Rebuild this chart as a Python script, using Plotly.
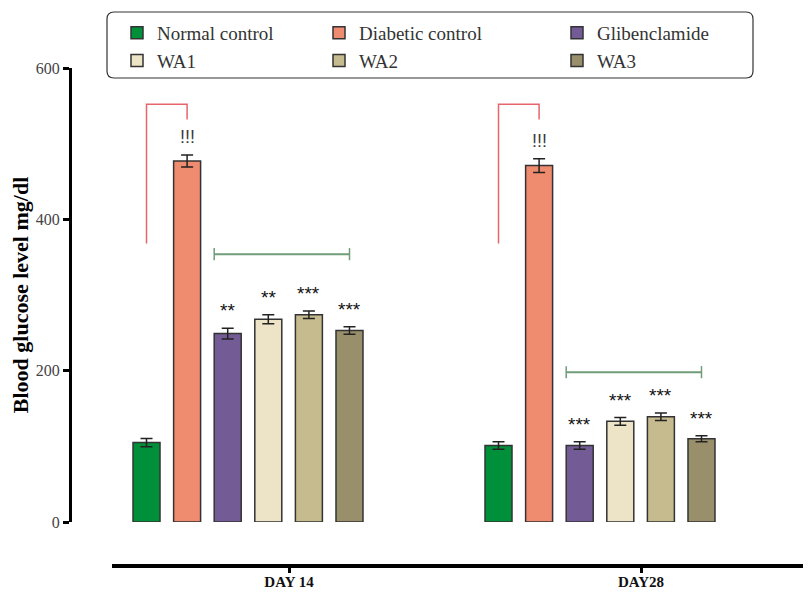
import plotly.graph_objects as go

# ---------------- data ----------------
days = ["DAY 14", "DAY28"]
groups = ["Normal control", "Diabetic control", "Glibenclamide", "WA1", "WA2", "WA3"]
normal_control = [105, 101]
diabetic_control = [477, 471]
glibenclamide = [249, 101]
wa1 = [268, 133]
wa2 = [274, 139]
wa3 = [253, 110]

normal_err = [5.5, 5]
diabetic_err = [8, 9]
glib_err = [7, 5]
wa1_err = [6, 5]
wa2_err = [5, 5]
wa3_err = [5, 4]

diabetic_sig = ["!!!", "!!!"]
glib_sig = ["**", "***"]
wa1_sig = ["**", "***"]
wa2_sig = ["***", "***"]
wa3_sig = ["***", "***"]

red_bracket = [368, 552, 532]      # left foot, top, right foot (mg/dl)
green_bracket = [354, 198]          # level per day (mg/dl)

y_ticks = [0, 200, 400, 600]

values = [normal_control, diabetic_control, glibenclamide, wa1, wa2, wa3]
errors = [normal_err, diabetic_err, glib_err, wa1_err, wa2_err, wa3_err]
sigs = [None, diabetic_sig, glib_sig, wa1_sig, wa2_sig, wa3_sig]
colors = ["#00903A", "#EF8B6E", "#735B96", "#EDE3C7", "#C6BB8F", "#9A8F6B"]

# ---------------- geometry ----------------
# The page has an 8px body margin, so target (screen) pixel p maps to figure pixel p - OFF
OFF = 8
W, H = 811, 592
ML, MR, MT, MB = 64, 0, 60, 34
PW = W - ML - MR
PH = H - MT - MB
BARGAP = 0.308
BARGROUPGAP = 0.335
N = len(groups)
slot = (1 - BARGAP) / N
barw = slot * (1 - BARGROUPGAP)
cat_px = 352.0


def xc(i, g):
    return g + (i - (N - 1) / 2) * slot


def px_x(p):
    return (p - OFF - ML) / PW


def px_y(p):
    return (H - MB - (p - OFF)) / PH


legend_cols = ["legend", "legend2", "legend3", "legend", "legend2", "legend3"]

fig = go.Figure()
for i, name in enumerate(groups):
    fig.add_trace(go.Bar(
        x=days, y=values[i], name=name,
        marker=dict(color=colors[i], line=dict(color="#333333", width=1.5)),
        error_y=dict(type="data", array=errors[i], color="#222222", thickness=1.5, width=6),
        legend=legend_cols[i],
    ))

# dummy trace for the lower category axis
fig.add_trace(go.Scatter(x=[None], y=[None], xaxis="x2", yaxis="y",
                         showlegend=False, hoverinfo="skip"))

annotations = []
for i, s in enumerate(sigs):
    if s is None:
        continue
    for g in range(len(days)):
        is_excl = s[g].startswith("!")
        annotations.append(dict(
            x=days[g], y=values[i][g] + errors[i][g], xref="x", yref="y",
            text=s[g], showarrow=False, yanchor="bottom",
            xshift=(i - (N - 1) / 2) * slot * cat_px,
            yshift=6 if is_excl else 5,
            font=dict(family="Liberation Sans", size=18 if is_excl else 19,
                      color="#3a3a3a" if is_excl else "#111111"),
        ))

shapes = []
red = "#E8666B"
green = "#6F9C79"
for g in range(len(days)):
    x0 = xc(0, g)
    x1 = xc(1, g)
    shapes.append(dict(
        type="path", xref="x", yref="y",
        path=f"M {x0},{red_bracket[0]} L {x0},{red_bracket[1]} L {x1},{red_bracket[1]} L {x1},{red_bracket[2]}",
        line=dict(color=red, width=1.5)))
    gx0 = xc(2, g) - barw / 2
    gx1 = xc(5, g)
    lv = green_bracket[g]
    shapes.append(dict(type="line", xref="x", yref="y", x0=gx0, x1=gx1, y0=lv, y1=lv,
                       line=dict(color=green, width=2)))
    for gx in (gx0, gx1):
        shapes.append(dict(type="line", xref="x", yref="y", x0=gx, x1=gx, y0=lv - 8, y1=lv + 8,
                           line=dict(color=green, width=1.5)))

# legend frame (rounded rectangle) in paper coords
lx0, lx1, ly0, ly1 = px_x(107), px_x(753), px_y(12), px_y(78)
rx, ry = 7 / PW, 7 / PH
path = (f"M {lx0+rx},{ly0} L {lx1-rx},{ly0} Q {lx1},{ly0} {lx1},{ly0-ry} "
        f"L {lx1},{ly1+ry} Q {lx1},{ly1} {lx1-rx},{ly1} L {lx0+rx},{ly1} "
        f"Q {lx0},{ly1} {lx0},{ly1+ry} L {lx0},{ly0-ry} Q {lx0},{ly0} {lx0+rx},{ly0} Z")
shapes.append(dict(type="path", xref="paper", yref="paper", path=path,
                   line=dict(color="#333333", width=1.2), fillcolor="rgba(0,0,0,0)"))

legend_font = dict(family="Liberation Serif", size=19, color="#333333")
leg_common = dict(orientation="v", xanchor="left", yanchor="top", bgcolor="rgba(0,0,0,0)",
                  font=legend_font, itemwidth=30, tracegroupgap=0)

tick_x0, tick_x1 = 289, 641  # screen positions of the day ticks on the lower axis
u = tick_x1 - tick_x0
x2_dom0 = px_x(112)

fig.update_layout(
    width=W, height=H,
    margin=dict(l=ML, r=MR, t=MT, b=MB, pad=0, autoexpand=False),
    plot_bgcolor="rgba(0,0,0,0)", paper_bgcolor="white",
    barmode="group", bargap=BARGAP, bargroupgap=BARGROUPGAP,
    xaxis=dict(domain=[0, 2 * cat_px / PW], range=[-0.5, 1.5], type="category",
               showline=False, showticklabels=False, ticks="", showgrid=False,
               zeroline=False, anchor="y"),
    xaxis2=dict(domain=[x2_dom0, 1], anchor="free", position=0,
                range=[(112 - tick_x0) / u, (W + OFF - tick_x0) / u],
                tickvals=[0, 1], ticktext=days, showline=True, linewidth=4, linecolor="black",
                ticks="outside", ticklen=5, tickwidth=3, tickcolor="black",
                ticklabelstandoff=-4,
                showgrid=False, zeroline=False,
                tickfont=dict(family="Liberation Serif", size=15, color="#111111", weight="bold")),
    yaxis=dict(domain=[(566 - 522) / PH, 1],
               range=[0, 600], tickvals=y_ticks, showline=True, linewidth=3, linecolor="black",
               ticks="outside", ticklen=6, tickwidth=3, tickcolor="black",
               showgrid=False, zeroline=False,
               tickfont=dict(family="Liberation Serif", size=16, color="#444444"),
               title=dict(text="Blood glucose level mg/dl", standoff=6,
                          font=dict(family="Liberation Serif", size=22, color="black", weight="bold"))),
    legend=dict(x=px_x(117), y=px_y(14), **leg_common),
    legend2=dict(x=px_x(319), y=px_y(14), **leg_common),
    legend3=dict(x=px_x(557), y=px_y(14), **leg_common),
    annotations=annotations,
    shapes=shapes,
    showlegend=True,
)

fig.write_html("out.html")
